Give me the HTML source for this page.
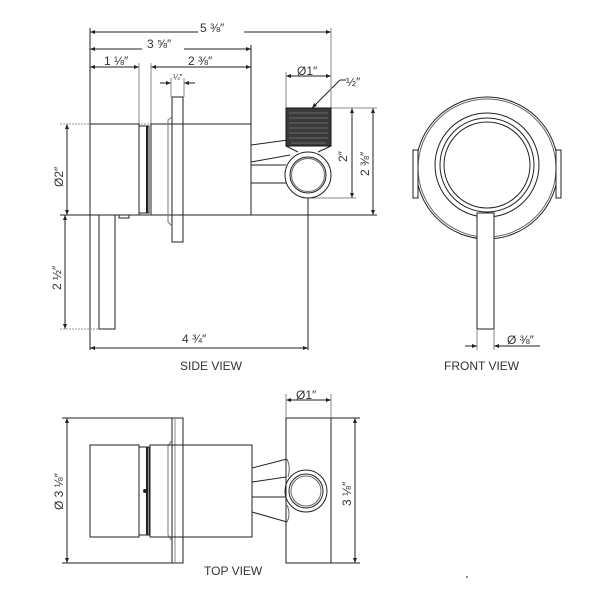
<!DOCTYPE html>
<html><head><meta charset="utf-8"><style>
html,body{margin:0;padding:0;background:#fff;}
svg{display:block;}
text{font-family:"Liberation Sans","DejaVu Sans",sans-serif;fill:#333;}
</style></head><body>
<svg width="600" height="600" viewBox="0 0 600 600" xmlns="http://www.w3.org/2000/svg">
<defs>
<marker id="a" viewBox="0 0 10 10" refX="10" refY="5" markerWidth="6" markerHeight="5" orient="auto-start-reverse"><path d="M0,1 L10,5 L0,9z" fill="#222"/></marker>
</defs>
<g stroke="#222" stroke-width="1" fill="none">
<line x1="90" y1="32" x2="331" y2="32" marker-start="url(#a)" marker-end="url(#a)"/>
<line x1="90" y1="49" x2="251" y2="49" marker-start="url(#a)" marker-end="url(#a)"/>
<line x1="90" y1="67" x2="139" y2="67" marker-start="url(#a)" marker-end="url(#a)"/>
<line x1="151" y1="67" x2="251" y2="67" marker-start="url(#a)" marker-end="url(#a)"/>
<line x1="160" y1="83" x2="171" y2="83" marker-end="url(#a)"/>
<line x1="195" y1="83" x2="184" y2="83" marker-end="url(#a)"/>
<line x1="286" y1="76" x2="331" y2="76" marker-start="url(#a)" marker-end="url(#a)"/>
<line x1="340" y1="80" x2="312" y2="108" marker-end="url(#a)"/>
<line x1="340" y1="80" x2="346" y2="80"/>
<line x1="352" y1="108" x2="352" y2="198" marker-start="url(#a)" marker-end="url(#a)"/>
<line x1="373" y1="108" x2="373" y2="215" marker-start="url(#a)" marker-end="url(#a)"/>
<line x1="67" y1="124" x2="67" y2="215" marker-start="url(#a)" marker-end="url(#a)"/>
<line x1="65" y1="215" x2="65" y2="329" marker-start="url(#a)" marker-end="url(#a)"/>
<line x1="90" y1="348" x2="308" y2="348" marker-start="url(#a)" marker-end="url(#a)"/>
<line x1="90" y1="28" x2="90" y2="350"/>
<line x1="331" y1="28" x2="331" y2="108" stroke="#888"/>
<line x1="251" y1="45" x2="251" y2="215"/>
<line x1="139" y1="63" x2="139" y2="124" stroke="#888"/>
<line x1="151" y1="63" x2="151" y2="124" stroke="#888"/>
<line x1="171" y1="78" x2="171" y2="97" stroke="#888"/>
<line x1="184" y1="78" x2="184" y2="97" stroke="#888"/>
<line x1="286" y1="72" x2="286" y2="108" stroke="#888"/>
<line x1="308" y1="198" x2="308" y2="350"/>
<line x1="60" y1="124" x2="251" y2="124" stroke="#999" stroke-dasharray="2,1"/>
<line x1="331" y1="108" x2="377" y2="108" stroke="#888"/>
<line x1="310" y1="198" x2="356" y2="198" stroke="#888"/>
<line x1="60" y1="215" x2="377" y2="215"/>
<line x1="60" y1="329" x2="114" y2="329" stroke="#999" stroke-dasharray="2,1"/>
<rect x="90" y="124" width="49" height="91"/>
<rect x="139" y="126" width="10" height="87"/>
<line x1="147" y1="126" x2="147" y2="213" stroke-width="2"/>
<rect x="151" y="124" width="100" height="91"/>
<rect x="172" y="97" width="11" height="145"/>
<path d="M172,117 L168,120 L168,222 L172,226" stroke="#777"/>
<rect x="99" y="215" width="16" height="114"/>
<rect x="119" y="215" width="10" height="3"/>
<path d="M251,145 L288,140 M251,162 L290,155 M251,165 L286,165 M251,183 L286,183"/>
<rect x="286" y="108" width="45" height="38" fill="#3a3a3a" stroke="#111"/>
<g stroke="#999" stroke-width="0.6">
<line x1="289" y1="113" x2="328" y2="113"/><line x1="289" y1="118" x2="328" y2="118"/><line x1="289" y1="123" x2="328" y2="123"/><line x1="289" y1="128" x2="328" y2="128"/><line x1="289" y1="133" x2="328" y2="133"/><line x1="289" y1="138" x2="328" y2="138"/><line x1="291" y1="143" x2="326" y2="143"/>
</g>
<path d="M286,146 L298,152 M331,146 L318,152" />
<circle cx="308" cy="175" r="23"/>
<circle cx="308" cy="175" r="18"/>
<circle cx="308" cy="175" r="16.5" stroke="#666"/>
<circle cx="487" cy="168" r="71"/>
<circle cx="487" cy="168" r="69" stroke="#666"/>
<circle cx="487" cy="165" r="52"/>
<circle cx="487" cy="165" r="47"/>
<circle cx="487" cy="165" r="43"/>
<rect x="413" y="150" width="5" height="48" fill="#fff"/>
<rect x="556" y="150" width="5" height="48" fill="#fff"/>
<rect x="477" y="213" width="17" height="116" fill="#fff"/>
<line x1="477" y1="329" x2="477" y2="350" stroke="#888"/>
<line x1="494" y1="329" x2="494" y2="350" stroke="#888"/>
<line x1="465" y1="346" x2="477" y2="346" marker-end="url(#a)"/>
<line x1="540" y1="346" x2="494" y2="346" marker-end="url(#a)"/>
<line x1="67" y1="418" x2="67" y2="563" marker-start="url(#a)" marker-end="url(#a)"/>
<line x1="62" y1="418" x2="183" y2="418"/>
<line x1="62" y1="563" x2="183" y2="563"/>
<rect x="172" y="418" width="11" height="145"/>
<line x1="175" y1="418" x2="175" y2="563" stroke="#888"/>
<path d="M172,440 L168,446 L168,535 L172,541" stroke="#777"/>
<rect x="90" y="445" width="49" height="92"/>
<rect x="139" y="447" width="10" height="88"/>
<line x1="147" y1="447" x2="147" y2="535" stroke-width="2"/>
<rect x="150" y="445" width="102" height="92"/>
<circle cx="145" cy="491" r="1.5" fill="#222"/>
<rect x="286" y="418" width="45" height="145"/>
<path d="M252,468 L287,459 M252,482 L286,477 M252,497 L286,497 M252,512 L287,522"/>
<path d="M287,459 Q291,468 288,477 M287,505 Q291,514 287,522" stroke="#666"/>
<circle cx="306" cy="491" r="21"/>
<circle cx="306" cy="491" r="17"/>
<circle cx="306" cy="491" r="15" stroke="#666"/>
<line x1="286" y1="400" x2="331" y2="400" marker-start="url(#a)" marker-end="url(#a)"/>
<line x1="286" y1="394" x2="286" y2="418" stroke="#888"/>
<line x1="331" y1="394" x2="331" y2="418" stroke="#888"/>
<line x1="355" y1="418" x2="355" y2="563" marker-start="url(#a)" marker-end="url(#a)"/>
<line x1="331" y1="418" x2="360" y2="418"/>
<line x1="331" y1="563" x2="360" y2="563"/>
</g>
<rect x="466" y="576" width="2" height="2" fill="#888"/>
<g font-size="12">
<rect x="198" y="22" width="46" height="14" fill="#fff"/>
<text x="200" y="32">5 ⅜″</text>
<rect x="142" y="38" width="42" height="14" fill="#fff"/>
<text x="147" y="48">3 ⅝″</text>
<text x="104" y="65">1 ⅛″</text>
<text x="188" y="65">2 ⅜″</text>
<text x="173" y="80" font-size="8">¼″</text>
<text x="297" y="75">Ø1″</text>
<text x="346" y="86">½″</text>
<text transform="translate(347,162) rotate(-90)">2″</text>
<text transform="translate(369,176) rotate(-90)">2 ⅜″</text>
<text transform="translate(63,187) rotate(-90)">Ø2″</text>
<text transform="translate(61,290) rotate(-90)">2 ½″</text>
<text x="182" y="343">4 ¾″</text>
<text x="180" y="370">SIDE VIEW</text>
<text x="507" y="344">Ø ⅜″</text>
<text x="444" y="370">FRONT VIEW</text>
<text x="296" y="399">Ø1″</text>
<text transform="translate(63,510) rotate(-90)">Ø 3 ⅛″</text>
<text transform="translate(351,506) rotate(-90)">3 ⅛″</text>
<text x="204" y="575">TOP VIEW</text>
</g>
</svg>
</body></html>
